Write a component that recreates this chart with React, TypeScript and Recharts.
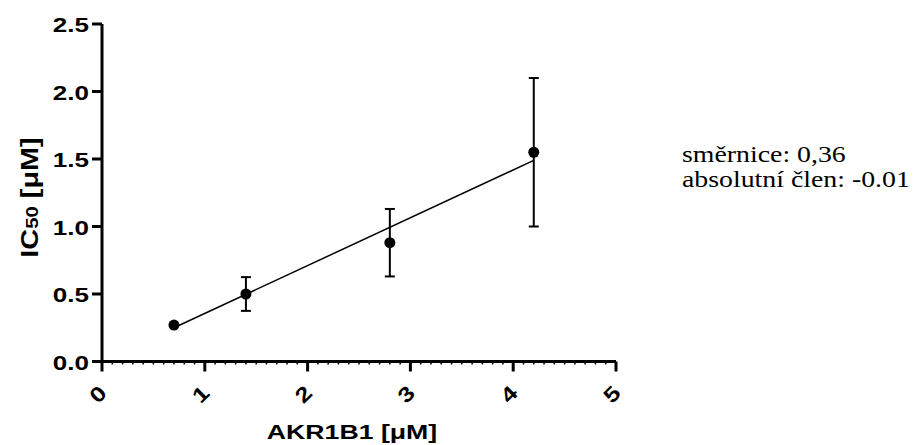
import React from 'react';
import { ComposedChart, XAxis, YAxis, Scatter, Line, ErrorBar, Label } from 'recharts';

// AKR1B1 concentration [uM]
const akr1b1 = [0.7, 1.4, 2.8, 4.2];
// IC50 [uM]
const ic50 = [0.27, 0.5, 0.88, 1.55];
// error (SD)
const ic50Err = [0, 0.125, 0.25, 0.55];
// linear fit endpoints
const fitX = [0.7, 4.2];
const fitY = [0.25, 1.49];

const xMajorTicks = [0, 1, 2, 3, 4, 5];
const xTickLabels = ['0', '1', '2', '3', '4', '5'];
const yTicks = [0, 0.5, 1, 1.5, 2, 2.5];
const yTickLabels = ['0.0', '0.5', '1.0', '1.5', '2.0', '2.5'];

const slopeText = 'směrnice: 0,36';
const interceptText = 'absolutní člen: -0.01';

const xAllTicks: number[] = [];
for (let i = 0; i < xMajorTicks.length - 1; i++) {
  for (let j = 0; j < 10; j++) xAllTicks.push(Math.round((xMajorTicks[i] + j / 10) * 10) / 10);
}
xAllTicks.push(xMajorTicks[xMajorTicks.length - 1]);

const points = akr1b1.map((x, i) => ({ x, y: ic50[i], err: ic50Err[i] }));
const fit = fitX.map((x, i) => ({ x, fy: fitY[i] }));

const SANS = '"Liberation Sans", Arial, Helvetica, sans-serif';

const XTick = (props: any) => {
  const { x, y, payload } = props;
  const v = payload.value as number;
  const idx = xMajorTicks.findIndex((m) => Math.abs(m - v) < 1e-6);
  const major = idx >= 0;
  return (
    <g>
      <line x1={x} x2={x} y1={y} y2={y + (major ? 10 : 3)} stroke="#000" strokeWidth={major ? 3 : 1.5} />
      {major && (
        <text
          transform={`translate(${x + 6},${y + 33}) rotate(-45) scale(1.22,1)`}
          textAnchor="end"
          fontFamily={SANS}
          fontWeight="bold"
          fontSize={21}
          fill="#000"
        >
          {xTickLabels[idx]}
        </text>
      )}
    </g>
  );
};

const YTick = (props: any) => {
  const { x, y, payload } = props;
  const idx = yTicks.findIndex((t) => Math.abs(t - payload.value) < 1e-6);
  return (
    <text
      transform={`translate(${x},${y + 8}) scale(1.24,1)`}
      textAnchor="end"
      fontFamily={SANS}
      fontWeight="bold"
      fontSize={21}
      fill="#000"
    >
      {idx >= 0 ? yTickLabels[idx] : ''}
    </text>
  );
};

const Dot = (props: any) => <circle cx={props.cx} cy={props.cy} r={5.5} fill="#000" />;

export default function App() {
  return (
    <div style={{ position: 'absolute', left: 0, top: 0, width: 914, height: 445, background: '#fff' }}>
      <ComposedChart width={914} height={445} margin={{ top: 24, right: 298, left: 0, bottom: 0 }}>
        <XAxis
          type="number"
          dataKey="x"
          domain={[0, 5]}
          ticks={xAllTicks}
          interval={0}
          tickSize={0}
          tickMargin={0}
          tickLine={false}
          tick={<XTick />}
          axisLine={{ stroke: '#000', strokeWidth: 3 }}
          height={83.5}
          allowDataOverflow
        >
          <Label
            content={() => (
              <text
                transform={`translate(352,439) scale(1.27,1)`}
                textAnchor="middle"
                fontFamily={SANS}
                fontWeight="bold"
                fontSize={21}
                fill="#000"
              >
                AKR1B1 [μM]
              </text>
            )}
          />
        </XAxis>
        <YAxis
          type="number"
          domain={[0, 2.5]}
          ticks={yTicks}
          interval={0}
          width={102}
          tickSize={10}
          tickMargin={3}
          tickLine={{ stroke: '#000', strokeWidth: 3 }}
          tick={<YTick />}
          axisLine={{ stroke: '#000', strokeWidth: 3 }}
          allowDataOverflow
        >
          <Label
            content={() => (
              <text
                transform={`translate(38,197.5) rotate(-90) scale(1.2,1)`}
                textAnchor="middle"
                fontFamily={SANS}
                fontWeight="bold"
                fontSize={24}
                fill="#000"
              >
                <tspan>IC</tspan>
                <tspan fontSize={17}>50</tspan>
                <tspan> [μM]</tspan>
              </text>
            )}
          />
        </YAxis>
        <Line
          data={fit}
          dataKey="fy"
          stroke="#000"
          strokeWidth={1.5}
          dot={false}
          activeDot={false}
          isAnimationActive={false}
        />
        <Scatter data={points} dataKey="y" fill="#000" shape={<Dot />} isAnimationActive={false}>
          <ErrorBar dataKey="err" direction="y" width={5} stroke="#000" strokeWidth={2} />
        </Scatter>
      </ComposedChart>
      <svg
        width={914}
        height={445}
        style={{ position: 'absolute', left: 0, top: 0, pointerEvents: 'none' }}
      >
        <text
          transform="translate(682,161.5) scale(1.21,1)"
          fontFamily='"Liberation Serif", "Times New Roman", serif'
          fontSize={23}
          fill="#000"
        >
          {slopeText}
        </text>
        <text
          transform="translate(682,186.5) scale(1.21,1)"
          fontFamily='"Liberation Serif", "Times New Roman", serif'
          fontSize={23}
          fill="#000"
        >
          {interceptText}
        </text>
      </svg>
    </div>
  );
}
